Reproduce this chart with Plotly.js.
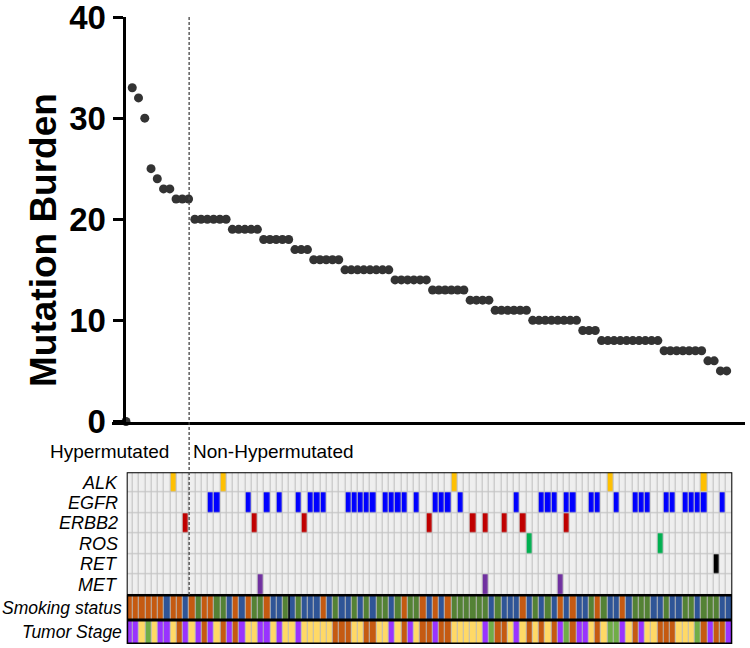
<!DOCTYPE html>
<html>
<head>
<meta charset="utf-8">
<script src="https://cdn.plot.ly/plotly-3.0.1.min.js"></script>
<style>html,body{margin:0;padding:0;background:#fff;}#chart{width:750px;height:648px;}</style>
</head>
<body>
<div id="chart"></div>
<script>
// ---------------- DATA ----------------
// Mutation burden per sample (index 0 is the origin point, then samples 1..96 sorted)
const burden = [0,
  33,32,30,25,24,23,23,22,22,22,
  20,20,20,20,20,20,
  19,19,19,19,19,
  18,18,18,18,18,
  17,17,17,
  16,16,16,16,16,
  15,15,15,15,15,15,15,15,
  14,14,14,14,14,14,
  13,13,13,13,13,13,
  12,12,12,12,
  11,11,11,11,11,11,
  10,10,10,10,10,10,10,10,
  9,9,9,
  8,8,8,8,8,8,8,8,8,8,
  7,7,7,7,7,7,7,
  6,6,
  5,5];
const yTicks = [0,10,20,30,40];
const yTitle = "Mutation Burden";
const groupLabels = ["Hypermutated","Non-Hypermutated"];
const nHyper = 10;

// Oncoprint: 97 columns, column numbers (1-based) carrying each alteration
const genes = ["ALK","EGFR","ERBB2","ROS","RET","MET"];
const nCols = 97;
const ALK   = [8,16,53,78,93];
const EGFR  = [14,15,20,23,25,28,30,31,32,36,37,38,39,40,42,43,44,45,47,50,51,52,54,63,67,68,69,71,72,75,76,79,82,83,84,87,88,90,91,92,93,96];
const ERBB2 = [10,21,29,49,56,58,61,64,71];
const ROS   = [65,86];
const RET   = [95];
const MET   = [22,58,70];

// Smoking status per column (1..97): C = orange, F = blue, N = green
const smoking = ("CCCCCCFCCF" + "CNCCNNFCFC" + "NNCFFNFNFF" + "FCFNFFNFNF" + "NNFNCNNCFC" +
                 "FCNNNNNNFN" + "FFFCFNFNFC" + "FCFFNCNFFC" + "FNNNFFNFFN" + "NFNNNFF").split("");
// Tumor stage per column (1..97): P = purple, Y = yellow, O = orange, G = green
const stage = ("PPYGYPPYOP" + "YPOPYOPOPY" + "YPPYPYYPYY" + "YYYOOOYYOO" + "YYPYOPYOOP" +
               "OOYYYYYPGO" + "OYPYOYOYOP" + "GOPPYOYGGP" + "YOPYYOOOYY" + "YGOPOOP").split("");

const smokingLabel = "Smoking status";
const stageLabel = "Tumor Stage";

// ---------------- COLORS ----------------
const geneColors = ["#FFC000","#0000FF","#C00000","#00B050","#000000","#7030A0"];
const cellBg = "#EFEFEF", gridCol = "#C4C4C4";
const smokeColors = {C:"#C55A11", F:"#2F5597", N:"#548235"};
const stageColors = {P:"#9933FF", Y:"#FFD966", O:"#C55A11", G:"#70AD47"};

// ---------------- BUILD ----------------
const idx = burden.map((_, i) => i);
const cols = Array.from({length: nCols}, (_, i) => i + 1);

const geneLists = [ALK, EGFR, ERBB2, ROS, RET, MET];
const zMut = geneLists.map((lst, g) => cols.map(c => lst.includes(c) ? g + 1 : 0));

function discreteScale(colors) {
  const n = colors.length, s = [];
  colors.forEach((c, i) => { s.push([i / n, c]); s.push([(i + 1) / n, c]); });
  return s;
}
const mutScale = discreteScale([cellBg].concat(geneColors));

const smokeKeys = Object.keys(smokeColors);
const stageKeys = Object.keys(stageColors);
const zSmoke = [cols.map(c => smokeKeys.indexOf(smoking[c - 1]))];
const zStage = [cols.map(c => stageKeys.indexOf(stage[c - 1]))];

const traces = [
  { type: "scatter", mode: "markers", x: idx, y: burden, xaxis: "x", yaxis: "y",
    marker: {color: "#333333", size: 9}, cliponaxis: false, hoverinfo: "skip", showlegend: false },
  { type: "heatmap", x: cols, y: genes.map((_, i) => i), z: zMut, xaxis: "x2", yaxis: "y2",
    zmin: -0.5, zmax: 6.5, colorscale: mutScale, showscale: false, xgap: 1.2, ygap: 1.2, hoverinfo: "skip" },
  { type: "heatmap", x: cols, y: [0], z: zSmoke, xaxis: "x2", yaxis: "y3",
    zmin: -0.5, zmax: 2.5, colorscale: discreteScale(smokeKeys.map(k => smokeColors[k])),
    showscale: false, xgap: 1, hoverinfo: "skip" },
  { type: "heatmap", x: cols, y: [0], z: zStage, xaxis: "x2", yaxis: "y4",
    zmin: -0.5, zmax: 3.5, colorscale: discreteScale(stageKeys.map(k => stageColors[k])),
    showscale: false, xgap: 1, hoverinfo: "skip" }
];

const W = 750, H = 648;
const px = v => v / W, py = v => 1 - v / H;
const FONT = "Liberation Sans, Arial";

const annotations = [
  {text: "<b>" + yTitle + "</b>", xref: "paper", yref: "paper", x: px(43), y: py(240), textangle: -90,
   xanchor: "center", yanchor: "middle", showarrow: false, font: {family: FONT, size: 37, color: "#000"}},
  {text: groupLabels[0], xref: "paper", yref: "paper", x: px(109), y: py(451), xanchor: "center", yanchor: "middle",
   showarrow: false, font: {family: FONT, size: 19, color: "#000"}},
  {text: groupLabels[1], xref: "paper", yref: "paper", x: px(191), y: py(451), xanchor: "left", yanchor: "middle",
   showarrow: false, font: {family: FONT, size: 19, color: "#000"}}
];
genes.forEach((g, i) => annotations.push({
  text: "<i>" + g + "</i>", xref: "paper", yref: "y2", x: px(120), y: i, xanchor: "right", yanchor: "middle",
  showarrow: false, font: {family: FONT, size: 18, color: "#000"}
}));
annotations.push({text: "<i>" + smokingLabel + "</i>", xref: "paper", yref: "y3", x: px(124), y: 0,
  xanchor: "right", yanchor: "middle", showarrow: false, font: {family: FONT, size: 17.5, color: "#000"}});
annotations.push({text: "<i>" + stageLabel + "</i>", xref: "paper", yref: "y4", x: px(124), y: 0,
  xanchor: "right", yanchor: "middle", showarrow: false, font: {family: FONT, size: 17.5, color: "#000"}});

const shapes = [
  {type: "rect", xref: "x2", yref: "y2", x0: 0.5, x1: nCols + 0.5, y0: -0.5, y1: 5.5, fillcolor: gridCol, line: {width: 0}, layer: "below"},
  {type: "rect", xref: "x2", yref: "y3", x0: 0.5, x1: nCols + 0.5, y0: -0.5, y1: 0.5, fillcolor: "#BBBBBB", line: {width: 0}, layer: "below"},
  {type: "rect", xref: "x2", yref: "y4", x0: 0.5, x1: nCols + 0.5, y0: -0.5, y1: 0.5, fillcolor: "#BBBBBB", line: {width: 0}, layer: "below"},
  {type: "rect", xref: "x2", yref: "y2", x0: 0.5, x1: nCols + 0.5, y0: -0.5, y1: 5.5, line: {color: "#000", width: 2}},
  {type: "rect", xref: "x2", yref: "y3", x0: 0.5, x1: nCols + 0.5, y0: -0.5, y1: 0.5, line: {color: "#000", width: 3}},
  {type: "rect", xref: "x2", yref: "y4", x0: 0.5, x1: nCols + 0.5, y0: -0.5, y1: 0.5, line: {color: "#000", width: 3}},
  {type: "line", xref: "x2", yref: "y3", x0: 26.5, x1: 26.5, y0: -0.5, y1: 0.5, line: {color: "#000", width: 1.5}},
  {type: "line", xref: "x2", yref: "paper", x0: nHyper + 0.5, x1: nHyper + 0.5, y0: py(595), y1: py(17),
   line: {color: "#444", width: 1.3, dash: "3px,2px"}}
];

const layout = {
  width: W, height: H, margin: {l: 0, r: 0, t: 0, b: 0},
  paper_bgcolor: "#fff", plot_bgcolor: "rgba(0,0,0,0)", showlegend: false,
  font: {family: FONT, color: "#000"},
  xaxis: {domain: [px(112), px(745)], range: [(112 - 126) / 6.257, (745 - 126) / 6.257], anchor: "y",
          showline: true, linecolor: "#000", linewidth: 3, showticklabels: false, ticks: "",
          showgrid: false, zeroline: false, fixedrange: true},
  yaxis: {domain: [py(421.5), py(17)], range: [0, 40], anchor: "free", position: px(123.5),
          tickvals: yTicks, ticks: "outside", ticklen: 10, tickwidth: 3, tickcolor: "#000",
          ticklabeloverflow: "allow",
          showline: true, linecolor: "#000", linewidth: 3, showgrid: false, zeroline: false,
          tickfont: {family: FONT, size: 33, color: "#000", weight: "bold"}},
  xaxis2: {domain: [px(126.7), px(732.3)], range: [0.5, nCols + 0.5], anchor: "y2",
           showticklabels: false, ticks: "", showgrid: false, zeroline: false, showline: false},
  yaxis2: {domain: [py(595), py(472.3)], range: [5.5, -0.5], anchor: "x2",
           showticklabels: false, ticks: "", showgrid: false, zeroline: false},
  yaxis3: {domain: [py(620), py(595)], range: [-0.5, 0.5], anchor: "x2",
           showticklabels: false, ticks: "", showgrid: false, zeroline: false},
  yaxis4: {domain: [py(644), py(620)], range: [-0.5, 0.5], anchor: "x2",
           showticklabels: false, ticks: "", showgrid: false, zeroline: false},
  annotations: annotations,
  shapes: shapes
};

Plotly.newPlot("chart", traces, layout, {displayModeBar: false, staticPlot: true});
</script>
</body>
</html>
